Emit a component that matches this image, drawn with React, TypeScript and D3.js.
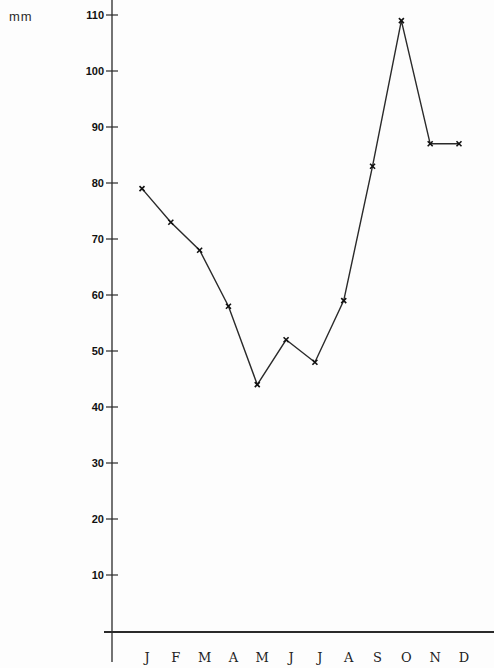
import React from "react";
import * as d3 from "d3";

const months = ["J", "F", "M", "A", "M", "J", "J", "A", "S", "O", "N", "D"];
const monthKeys = ["Jan", "Feb", "Mar", "Apr", "May", "Jun", "Jul", "Aug", "Sep", "Oct", "Nov", "Dec"];
const rainfall = [79, 73, 68, 58, 44, 52, 48, 59, 83, 109, 87, 87];
const yTicks = [10, 20, 30, 40, 50, 60, 70, 80, 90, 100, 110];
const unitLabel = "mm";

const W = 494;
const H = 668;
const axisX = 112;
const axisY = 631;

export default function App() {
  const x = d3.scalePoint<string>().domain(monthKeys).range([142, 459]);
  const y = d3.scaleLinear().domain([0, 110]).range([axisY, 15]);

  const line = d3
    .line<number>()
    .x((_, i) => x(monthKeys[i]) as number)
    .y((v) => y(v));

  const ink = "#2a2a2a";

  return (
    <svg
      width={W}
      height={H}
      style={{ position: "absolute", left: 0, top: 0, background: "#fdfdfd" }}
    >
      <rect x={0} y={0} width={W} height={H} fill="#fdfdfd" />
      {/* unit label */}
      <text
        x={9}
        y={21}
        fontFamily="Liberation Sans, Arial, sans-serif"
        fontSize={13}
        letterSpacing={1}
        fill={ink}
      >
        {unitLabel}
      </text>

      {/* y axis */}
      <line x1={axisX} y1={0} x2={axisX} y2={662} stroke={ink} strokeWidth={1.3} />
      {yTicks.map((t) => (
        <g key={t}>
          <line x1={axisX - 6} x2={axisX + 6} y1={y(t)} y2={y(t)} stroke={ink} strokeWidth={1.2} />
          <text
            x={axisX - 8}
            y={y(t) + 4}
            textAnchor="end"
            fontFamily="Liberation Sans, Arial, sans-serif"
            fontWeight="bold"
            fontSize={11}
            fill="#111"
          >
            {t}
          </text>
        </g>
      ))}

      {/* x axis */}
      <line x1={104} y1={axisY + 1} x2={W} y2={axisY + 1} stroke={ink} strokeWidth={2} />
      {months.map((m, i) => (
        <text
          key={i}
          x={(x(monthKeys[i]) as number) + 5}
          y={662}
          textAnchor="middle"
          fontFamily="DejaVu Serif, serif"
          fontSize={13}
          fill="#222"
        >
          {m}
        </text>
      ))}

      {/* rainfall line */}
      <path d={line(rainfall) ?? ""} fill="none" stroke={ink} strokeWidth={1.4} />
      {rainfall.map((v, i) => {
        const cx = x(monthKeys[i]) as number;
        const cy = y(v);
        const s = 2.5;
        return (
          <g key={i} stroke="#111" strokeWidth={1.6}>
            <line x1={cx - s} y1={cy - s} x2={cx + s} y2={cy + s} />
            <line x1={cx - s} y1={cy + s} x2={cx + s} y2={cy - s} />
          </g>
        );
      })}
    </svg>
  );
}
